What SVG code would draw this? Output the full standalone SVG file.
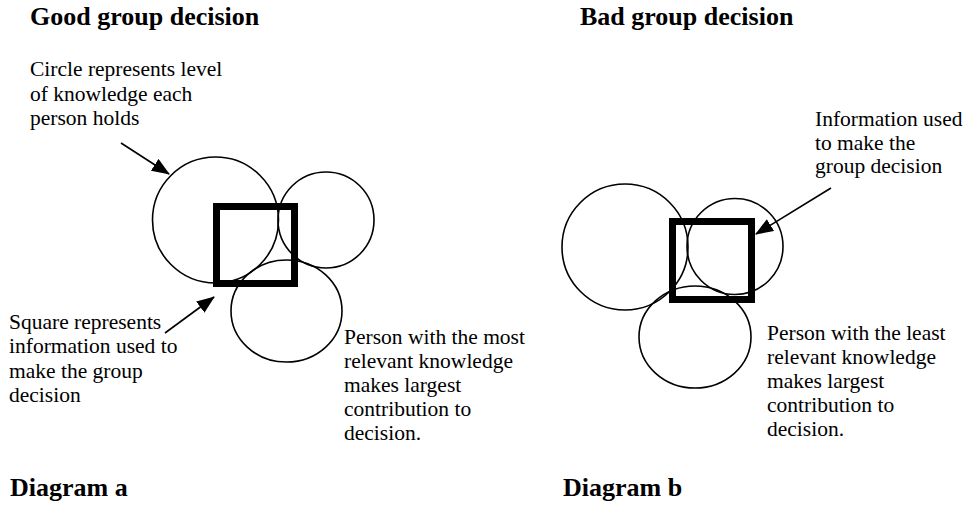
<svg xmlns="http://www.w3.org/2000/svg" width="971" height="505" viewBox="0 0 971 505">
<style>
  .title { font-family: "Liberation Serif", "Times New Roman", serif; font-weight: bold; font-size: 26px; fill: #000; }
  .body { font-family: "Liberation Serif", "Times New Roman", serif; font-size: 21.5px; fill: #000; }
  .person { fill: none; stroke: #000; stroke-width: 1.6; }
  .info { fill: none; stroke: #000; stroke-width: 7; }
  .conn { fill: none; stroke: #000; stroke-width: 1.6; marker-end: url(#arrow); }
</style>
<defs>
  <marker id="arrow" markerUnits="userSpaceOnUse" markerWidth="18" markerHeight="14" refX="17" refY="7" orient="auto">
    <path d="M0,0 L18,7 L0,14 z" fill="#000"/>
  </marker>
</defs>
<rect width="971" height="505" fill="#fff"/>

<!-- Diagram a -->
<g id="title-a"><text class="title" x="30" y="25">Good group decision</text></g>
<g id="label-circle">
  <text class="body" x="30" y="76">Circle represents level</text>
  <text class="body" x="30" y="100.5">of knowledge each</text>
  <text class="body" x="30" y="125">person holds</text>
</g>
<g id="a-person1"><circle class="person" cx="215.5" cy="220" r="63"/></g>
<g id="a-person2"><circle class="person" cx="326" cy="220" r="48"/></g>
<g id="a-person3"><ellipse class="person" cx="286.5" cy="311" rx="55.5" ry="51"/></g>
<g id="a-info"><rect class="info" x="216.5" y="206.5" width="78" height="77"/></g>
<g id="label-square">
  <text class="body" x="9" y="329">Square represents</text>
  <text class="body" x="9" y="353">information used to</text>
  <text class="body" x="9" y="377.5">make the group</text>
  <text class="body" x="9" y="402">decision</text>
</g>
<g id="label-most">
  <text class="body" x="344" y="344">Person with the most</text>
  <text class="body" x="344" y="368">relevant knowledge</text>
  <text class="body" x="344" y="392">makes largest</text>
  <text class="body" x="344" y="416">contribution to</text>
  <text class="body" x="344" y="440">decision.</text>
</g>
<g id="caption-a"><text class="title" x="10" y="496">Diagram a</text></g>

<!-- Diagram b -->
<g id="title-b"><text class="title" x="580" y="25">Bad group decision</text></g>
<g id="label-info">
  <text class="body" x="815" y="126">Information used</text>
  <text class="body" x="815" y="149.5">to make the</text>
  <text class="body" x="815" y="173">group decision</text>
</g>
<g id="b-person1"><circle class="person" cx="625" cy="247" r="63"/></g>
<g id="b-person2"><circle class="person" cx="735" cy="246.5" r="48"/></g>
<g id="b-person3"><ellipse class="person" cx="695" cy="337" rx="56" ry="51"/></g>
<g id="b-info"><rect class="info" x="672.5" y="221.5" width="79" height="78"/></g>
<g id="label-least">
  <text class="body" x="767" y="340">Person with the least</text>
  <text class="body" x="767" y="364">relevant knowledge</text>
  <text class="body" x="767" y="388">makes largest</text>
  <text class="body" x="767" y="412">contribution to</text>
  <text class="body" x="767" y="436">decision.</text>
</g>
<g id="caption-b"><text class="title" x="563" y="496">Diagram b</text></g>

<!-- Connectors -->
<g id="connectors">
  <line class="conn" x1="121" y1="143" x2="169" y2="174"/>
  <line class="conn" x1="165" y1="333" x2="214" y2="297"/>
  <line class="conn" x1="831" y1="188" x2="756" y2="234"/>
</g>
</svg>
